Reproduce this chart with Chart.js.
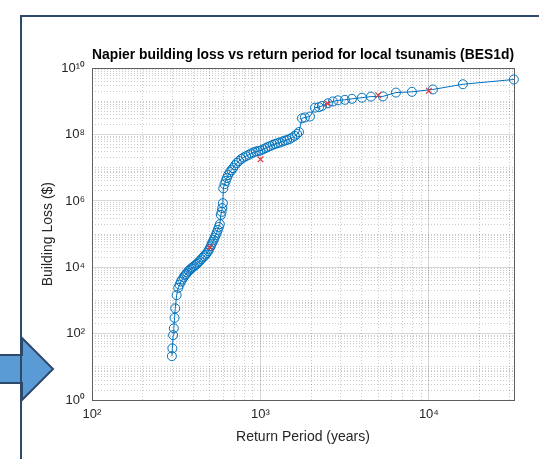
<!DOCTYPE html>
<html>
<head>
<meta charset="utf-8">
<script src="https://cdn.jsdelivr.net/npm/chart.js@4.4.0/dist/chart.umd.min.js"></script>
<style>
body{margin:0;background:#fff;overflow:hidden;width:539px;height:459px;position:relative}
#frame{position:absolute;left:20px;top:15px;width:600px;height:500px;border:2.5px solid #2e4a6b;box-sizing:border-box}
#arrow{position:absolute;left:0;top:0}
#wrap{position:absolute;left:0;top:0;width:539px;height:459px}
</style>
</head>
<body>
<svg id="arrow" width="539" height="459"><polygon points="-5,355 22,355 22,338 53,369 22,400 22,383 -5,383" fill="#5b9bd5" stroke="#2e4a6b" stroke-width="2"/></svg>
<div id="frame"></div>
<div id="wrap"><canvas id="lossChart" width="539" height="459"></canvas></div>
<script>
// loss curve (years, $)
const returnPeriods = [298, 300, 303, 306, 309, 312, 318, 325, 331, 337, 343, 350, 356, 362, 368, 375, 382, 389, 396, 404,
  412, 420, 428, 436, 445, 454, 463, 472, 481, 490, 498, 506, 513, 520, 527, 534, 542, 550, 558, 566,
  574, 582, 588, 593, 598, 602, 612, 622, 632, 642, 658, 672, 688, 706, 724, 745, 770, 795, 822, 850,
  880, 910, 940, 970, 1000, 1035, 1070, 1105, 1140, 1180, 1220, 1260, 1305, 1350, 1395, 1440, 1490, 1545, 1600, 1650,
  1693, 1764, 1837, 1967, 2106, 2225, 2317, 2516, 2694, 2884, 3173, 3491, 4004, 4528, 5334, 6373, 7929, 10562, 15913, 31950];
const buildingLoss = [21, 36, 90, 145, 300, 580, 1450, 2400, 3000, 3700, 4300, 5000, 5700, 6300, 7000, 7800, 8600, 9300, 10000, 10800,
  11800, 12800, 14000, 15500, 17500, 19500, 21500, 24000, 27000, 31000, 36000, 43000, 50000, 58000, 67000, 78000, 92000, 110000, 135000, 165000,
  200000, 380000, 470000, 610000, 860000, 2.4e6, 3.2e6, 4.0e6, 4.9e6, 6.0e6, 7.4e6, 8.5e6, 9.8e6, 1.2e7, 1.4e7, 1.6e7, 1.85e7, 2.05e7, 2.25e7, 2.45e7,
  2.7e7, 2.9e7, 3.1e7, 3.2e7, 3.3e7, 3.6e7, 3.9e7, 4.2e7, 4.5e7, 4.9e7, 5.2e7, 5.5e7, 5.8e7, 6.2e7, 6.6e7, 6.9e7, 7.4e7, 8.2e7, 9.2e7, 1.05e8,
  1.2e8, 3.1e8, 3.3e8, 3.5e8, 6.5e8, 6.7e8, 7.3e8, 8.8e8, 1.0e9, 1.08e9, 1.12e9, 1.2e9, 1.3e9, 1.4e9, 1.42e9, 1.85e9, 1.95e9, 2.3e9, 3.3e9, 4.6e9];

// red crosses
const markerPeriods = [500, 1000, 2500, 5000, 10000];
const markerLoss = [4.0e4, 1.8e7, 8.7e8, 1.54e9, 2.1e9];

const xTickValues = [1e2, 1e3, 1e4];
const xTickLabels = ['10²', '10³', '10⁴'];
const yTickValues = [1e0, 1e2, 1e4, 1e6, 1e8, 1e10];
const yTickLabels = ['10⁰', '10²', '10⁴', '10⁶', '10⁸', '10¹⁰'];

const xMin = 100, xMax = 32000, yMin = 1, yMax = 1e10;

const fontFamily = '"Liberation Sans", Arial, sans-serif';
const majorGrid = 'rgba(0,0,0,0.15)';
const minorGrid = 'rgba(0,0,0,0.2)';
const axisColor = '#5f5f5f';

function findIndex(list, v) {
    return list.findIndex(t => Math.abs(Math.log10(t) - Math.log10(v)) < 1e-6);
}

// 1..9 x 10^n inside range
function decadeTicks(scale) {
    const ticks = [];
    const lo = Math.floor(Math.log10(scale.min));
    const hi = Math.ceil(Math.log10(scale.max));
    for (let e = lo; e <= hi; e++) {
        for (let k = 1; k <= 9; k++) {
            const v = k * Math.pow(10, e);
            if (v >= scale.min * 0.9999 && v <= scale.max * 1.0001) ticks.push({value: v});
        }
    }
    scale.ticks = ticks;
}

function gridColor(majorList, forMajor) {
    return function (ctx) {
        if (!ctx.tick) return 'transparent';
        const isMajor = findIndex(majorList, ctx.tick.value) !== -1;
        if (forMajor) return isMajor ? majorGrid : 'transparent';
        return isMajor ? 'transparent' : minorGrid;
    };
}

const points = returnPeriods.map((x, i) => ({x: x, y: buildingLoss[i]}));
const crosses = markerPeriods.map((x, i) => ({x: x, y: markerLoss[i]}));

const ctx = document.getElementById('lossChart').getContext('2d');
const lossChart = new Chart(ctx, {
    type: 'line',
    data: {
        datasets: [{
            data: crosses,
            showLine: false,
            pointStyle: 'crossRot',
            pointRadius: 4,
            borderColor: '#e3343c',
            pointBorderColor: '#e3343c',
            pointBorderWidth: 1.2,
            order: 0,
            clip: false
        }, {
            data: points,
            borderColor: '#0072BD',
            borderWidth: 1,
            tension: 0,
            pointStyle: 'circle',
            pointRadius: 4.5,
            pointBackgroundColor: 'rgba(0,0,0,0)',
            pointBorderColor: '#0072BD',
            pointBorderWidth: 1,
            order: 1,
            clip: false
        }]
    },
    options: {
        responsive: false,
        animation: false,
        events: [],
        layout: {padding: {left: 36, right: 25, top: 46, bottom: 9}},
        plugins: {
            legend: {display: false},
            tooltip: {enabled: false},
            title: {
                display: true,
                fullSize: false,
                text: 'Napier building loss vs return period for local tsunamis (BES1d)',
                color: '#000',
                font: {family: fontFamily, size: 14.4, weight: 'bold'},
                padding: {top: 0, bottom: 5}
            }
        },
        scales: {
            x: {
                type: 'logarithmic',
                position: 'bottom',
                min: xMin,
                max: xMax,
                afterBuildTicks: decadeTicks,
                afterFit: s => { s.height = 50; },
                grid: {color: gridColor(xTickValues, true), drawTicks: false, lineWidth: 1},
                border: {display: true, color: axisColor, width: 1},
                ticks: {
                    autoSkip: false,
                    maxRotation: 0,
                    padding: 7,
                    color: '#262626',
                    font: {family: fontFamily, size: 13},
                    callback: v => { const i = findIndex(xTickValues, v); return i === -1 ? '' : xTickLabels[i]; }
                },
                title: {display: true, text: 'Return Period (years)', color: '#262626', font: {family: fontFamily, size: 14}}
            },
            x2: {
                type: 'logarithmic',
                position: 'top',
                min: xMin,
                max: xMax,
                afterBuildTicks: decadeTicks,
                grid: {color: gridColor(xTickValues, false), drawTicks: false, lineWidth: 1},
                border: {display: true, color: axisColor, width: 1, dash: [1, 2]},
                ticks: {display: false, autoSkip: false}
            },
            y: {
                type: 'logarithmic',
                position: 'left',
                min: yMin,
                max: yMax,
                afterBuildTicks: decadeTicks,
                afterFit: s => { s.width = 56; },
                grid: {color: gridColor(yTickValues, true), drawTicks: false, lineWidth: 1},
                border: {display: true, color: axisColor, width: 1},
                ticks: {
                    autoSkip: false,
                    padding: 7,
                    color: '#262626',
                    font: {family: fontFamily, size: 13},
                    callback: v => { const i = findIndex(yTickValues, v); return i === -1 ? '' : yTickLabels[i]; }
                },
                title: {display: true, text: 'Building Loss ($)', color: '#262626', font: {family: fontFamily, size: 14}}
            },
            y2: {
                type: 'logarithmic',
                position: 'right',
                min: yMin,
                max: yMax,
                afterBuildTicks: decadeTicks,
                grid: {color: gridColor(yTickValues, false), drawTicks: false, lineWidth: 1},
                border: {display: true, color: axisColor, width: 1, dash: [1, 2]},
                ticks: {display: false, autoSkip: false}
            }
        }
    }
});
</script>
</body>
</html>
